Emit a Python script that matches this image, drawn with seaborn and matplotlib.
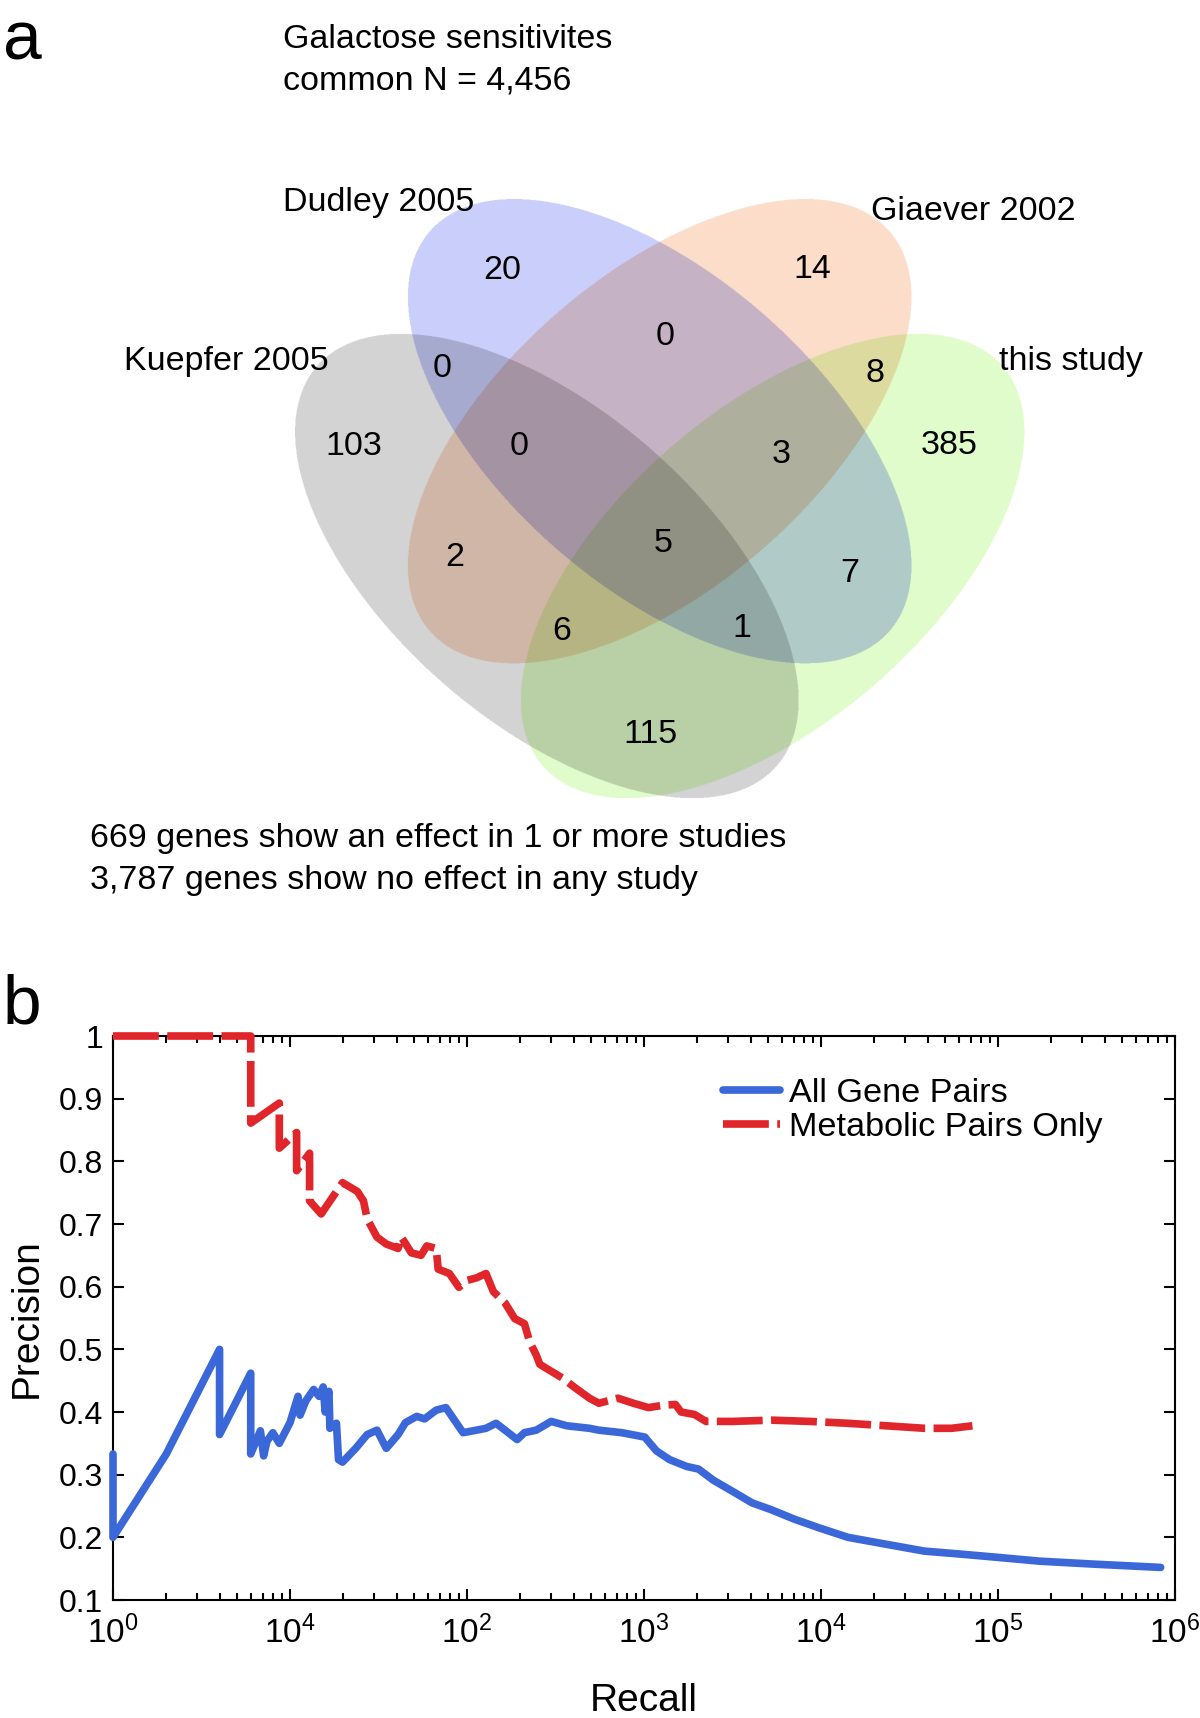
import numpy as np
import pandas as pd
import matplotlib
matplotlib.use("Agg")
import matplotlib.pyplot as plt
from matplotlib.colors import to_rgb
from matplotlib.ticker import LogLocator, NullFormatter
import seaborn as sns

sns.set_theme(style="ticks")
plt.rcParams["font.family"] = ["Liberation Sans", "DejaVu Sans"]
plt.rcParams["mathtext.fontset"] = "custom"
plt.rcParams["mathtext.rm"] = "Liberation Sans"
plt.rcParams["mathtext.it"] = "Liberation Sans:italic"
plt.rcParams["mathtext.bf"] = "Liberation Sans:bold"
for key in ["text.color", "axes.labelcolor", "xtick.color", "ytick.color", "axes.edgecolor"]:
    plt.rcParams[key] = "black"

# ---------------- panel a: Venn of galactose sensitivities ----------------
set_names = ["Kuepfer 2005", "Dudley 2005", "Giaever 2002", "this study"]
set_colors = ["#D3D3D3", "#C9CEFB", "#FCDDC9", "#E0FCCB"]
# region key: membership in (Kuepfer, Dudley, Giaever, this study)
region_keys = ["1000", "0100", "0010", "0001", "1100", "0110", "0011", "1010",
               "0101", "1001", "1110", "0111", "1011", "1101", "1111"]
region_counts = [103, 20, 14, 385, 0, 0, 8, 2, 7, 115, 0, 3, 6, 1, 5]
header_lines = ["Galactose sensitivites", "common N = 4,456"]
footer_lines = ["669 genes show an effect in 1 or more studies",
                "3,787 genes show no effect in any study"]

# ---------------- panel b: precision vs recall ----------------
recall_all = [1, 1, 2, 4, 4, 6, 6, 6.8, 7.1, 7.4, 8.0, 8.7, 10, 11.1, 11.4, 12.3,
              13.6, 14.6, 15.4, 15.8, 16.6, 16.8, 18.3, 18.8, 19.8, 23.5, 27.3, 31,
              35, 40.8, 44.9, 52, 57.6, 67, 76, 84, 95, 113, 128, 146, 164, 192, 211,
              246, 299, 366, 492, 556, 749, 1010, 1175, 1396, 1745, 2030, 2470, 3180,
              4080, 5240, 7070, 9780, 14200, 23300, 38400, 63000, 1e5, 171000,
              361000, 830000]
precision_all = [0.333, 0.2, 0.333, 0.5, 0.364, 0.462, 0.333, 0.37, 0.33, 0.353,
                 0.367, 0.35, 0.383, 0.425, 0.395, 0.418, 0.436, 0.425, 0.44, 0.40,
                 0.433, 0.374, 0.382, 0.324, 0.32, 0.342, 0.364, 0.371, 0.342, 0.364,
                 0.383, 0.393, 0.389, 0.403, 0.407, 0.389, 0.367, 0.371, 0.374, 0.382,
                 0.371, 0.356, 0.367, 0.371, 0.385, 0.378, 0.374, 0.371, 0.367, 0.36,
                 0.338, 0.324, 0.313, 0.309, 0.291, 0.273, 0.255, 0.244, 0.229, 0.215,
                 0.2, 0.189, 0.178, 0.173, 0.168, 0.162, 0.157, 0.152]
recall_met = [1, 6, 6, 8.7, 8.7, 10.9, 10.9, 12.9, 12.9, 15, 19.8, 24, 26, 27.3, 31,
              35, 40.8, 42.6, 48.5, 55, 59.3, 67, 68.7, 79.5, 90, 100, 113, 128, 141,
              164, 186, 211, 226, 246, 258, 299, 347, 402, 492, 556, 713, 870, 1060,
              1295, 1505, 1620, 1930, 2240, 3180, 5240, 8600, 14200, 23300, 38400,
              54700, 71700]
precision_met = [1.0, 1.0, 0.861, 0.893, 0.821, 0.846, 0.785, 0.813, 0.737, 0.716,
                 0.766, 0.752, 0.737, 0.708, 0.679, 0.668, 0.661, 0.679, 0.654, 0.650,
                 0.665, 0.661, 0.628, 0.621, 0.599, 0.61, 0.614, 0.621, 0.592, 0.574,
                 0.549, 0.541, 0.512, 0.491, 0.476, 0.465, 0.454, 0.440, 0.422, 0.414,
                 0.422, 0.414, 0.407, 0.411, 0.412, 0.40, 0.396, 0.385, 0.385, 0.387,
                 0.385, 0.382, 0.378, 0.374, 0.374, 0.378]
series_names = ["All Gene Pairs", "Metabolic Pairs Only"]
x_tick_values = [1, 10, 100, 1e3, 1e4, 1e5, 1e6]
x_tick_labels = ["0", "4", "2", "3", "4", "5", "6"]   # exponents as printed
y_ticks = [0.1, 0.2, 0.3, 0.4, 0.5, 0.6, 0.7, 0.8, 0.9, 1.0]

# ---------------- layout (pixel units of the top panel) ----------------
ell_centers = [(546.9, 566.0), (659.7, 431.2), (659.7, 431.2), (772.6, 566.0)]
ell_angles = [41, 41, -41, -41]
semi_a, semi_b = 304.6, 156.5
label_pos = {
    "1000": (354, 443), "0100": (502, 267), "0010": (812, 266), "0001": (949, 442),
    "1100": (442, 365), "0110": (665, 333), "0011": (875, 370), "1010": (455, 554),
    "0101": (850, 570), "1001": (651, 731), "1110": (519, 443), "0111": (781, 451),
    "1011": (562, 628), "1101": (742, 625), "1111": (663, 540),
}
name_pos = [(124, 370), (283, 211), (871, 220), (999, 370)]
TXT = 24.5

fig = plt.figure(figsize=(12, 17.18), dpi=100)

# panel a
ax_a = fig.add_axes([0, 1 - 900 / 1718, 1, 900 / 1718])
x0, x1, y0, y1 = 200, 1100, 150, 850
xs = np.arange(x0, x1, 0.5) + 0.25
ys = np.arange(y0, y1, 0.5) + 0.25
X, Y = np.meshgrid(xs, ys)
rgb = np.ones(X.shape + (3,), dtype=np.float32)
for (cx, cy), ang, col in zip(ell_centers, ell_angles, set_colors):
    t = np.deg2rad(ang)
    dx, dy = X - cx, Y - cy
    u = dx * np.cos(t) + dy * np.sin(t)
    v = -dx * np.sin(t) + dy * np.cos(t)
    inside = (u / semi_a) ** 2 + (v / semi_b) ** 2 <= 1
    rgb[inside] *= np.array(to_rgb(col), dtype=np.float32)
ax_a.imshow(rgb, extent=(x0, x1, y1, y0), interpolation="antialiased", aspect="auto")
ax_a.set_xlim(0, 1200)
ax_a.set_ylim(900, 0)
ax_a.axis("off")

for key, n in zip(region_keys, region_counts):
    px, py = label_pos[key]
    ax_a.text(px, py + 12, str(n), ha="center", va="baseline", fontsize=TXT)
for name, (px, py) in zip(set_names, name_pos):
    ax_a.text(px, py, name, ha="left", va="baseline", fontsize=TXT)
for i, line in enumerate(header_lines):
    ax_a.text(283, 48 + 42 * i, line, ha="left", va="baseline", fontsize=TXT)
for i, line in enumerate(footer_lines):
    ax_a.text(90, 847 + 42 * i, line, ha="left", va="baseline", fontsize=TXT)

fig.text(3 / 1200, 1 - 59 / 1718, "a", fontsize=50, ha="left", va="baseline")
fig.text(3 / 1200, 1 - 1023 / 1718, "b", fontsize=50, ha="left", va="baseline")

# panel b
ax_b = fig.add_axes([113 / 1200, 118 / 1718, 1062 / 1200, 564 / 1718])
ax_b.set_xscale("log")
df_all = pd.DataFrame({"recall": recall_all, "precision": precision_all})
df_met = pd.DataFrame({"recall": recall_met, "precision": precision_met})
sns.lineplot(data=df_all, x="recall", y="precision", ax=ax_b, sort=False,
             estimator=None, color="#3B68D9", linewidth=5.5, label=series_names[0],
             clip_on=False, zorder=3)
sns.lineplot(data=df_met, x="recall", y="precision", ax=ax_b, sort=False,
             estimator=None, color="#E1262B", linewidth=5.5, label=series_names[1],
             linestyle=(0, (6, 1.1)), clip_on=False, zorder=3)

ax_b.set_xlim(1, 1e6)
ax_b.set_ylim(0.1, 1.0)
ax_b.set_xticks(x_tick_values)
ax_b.set_xticklabels([r"$\mathregular{10^{%s}}$" % e for e in x_tick_labels])
ax_b.xaxis.set_minor_locator(LogLocator(base=10, subs=np.arange(2, 10), numticks=20))
ax_b.xaxis.set_minor_formatter(NullFormatter())
ax_b.set_yticks(y_ticks)
ax_b.set_yticklabels([f"{v:g}" for v in y_ticks])
ax_b.tick_params(axis="both", which="both", direction="in", top=True, right=True,
                 color="black", width=1.5)
ax_b.tick_params(axis="both", which="major", length=8)
ax_b.tick_params(axis="both", which="minor", length=5)
ax_b.tick_params(axis="x", which="major", labelsize=24, pad=11)
ax_b.tick_params(axis="y", which="major", labelsize=23, pad=7)
for sp in ax_b.spines.values():
    sp.set_color("black")
    sp.set_linewidth(1.5)
ax_b.set_xlabel("Recall", fontsize=28, labelpad=24)
ax_b.set_ylabel("Precision", fontsize=28, labelpad=10)
ax_b.legend(loc="upper left", bbox_to_anchor=(0.5744, 0.926), frameon=False,
            fontsize=24.7, handlelength=1.66, handletextpad=0.26,
            labelspacing=0.08, borderpad=0, borderaxespad=0)

fig.savefig("out.png", dpi=100)
